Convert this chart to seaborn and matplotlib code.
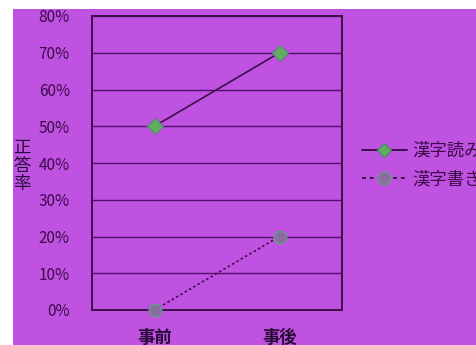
import matplotlib
matplotlib.use("Agg")
import matplotlib.pyplot as plt
import seaborn as sns
import pandas as pd
from matplotlib.patches import Rectangle
from matplotlib.ticker import FixedLocator
from matplotlib.lines import Line2D

categories = ["事前", "事後"]
series_names = ["漢字読み", "漢字書き"]
yomi_values = [0.50, 0.70]
kaki_values = [0.00, 0.20]
y_ticks = [0.0, 0.1, 0.2, 0.3, 0.4, 0.5, 0.6, 0.7, 0.8]
y_tick_labels = ["0%", "10%", "20%", "30%", "40%", "50%", "60%", "70%", "80%"]

df = pd.DataFrame({
    "時期": categories * 2,
    "正答率": yomi_values + kaki_values,
    "系列": [series_names[0]] * 2 + [series_names[1]] * 2,
})

sns.set_theme(style="white")
plt.rcParams["font.family"] = ["Noto Sans CJK JP", "DejaVu Sans"]

W, H = 477, 345
bg = "#bf52e0"
dark = "#3c0f4c"
fig = plt.figure(figsize=(W / 100, H / 100), dpi=100)
fig.patch.set_facecolor("white")
fig.patches.append(Rectangle((13 / W, 0), 1 - 13 / W, 1 - 9 / H,
                             transform=fig.transFigure, facecolor=bg,
                             edgecolor="none", zorder=-10))

ax = fig.add_axes([92 / W, 1 - 310 / H, 250 / W, 294 / H])
ax.set_facecolor(bg)

sns.lineplot(data=df, x="時期", y="正答率", hue="系列", style="系列",
             palette=[dark, dark], markers={series_names[0]: "D", series_names[1]: "o"},
             dashes={series_names[0]: "", series_names[1]: (1.5, 1.5)},
             markersize=8, linewidth=1.2, ax=ax, legend=False, sort=False)

lines = ax.get_lines()
lines[0].set_markerfacecolor("#62ad62")
lines[0].set_markeredgecolor("#4a8a70")
lines[0].set_markersize(8)
lines[1].set_markerfacecolor("#8c6aa2")
lines[1].set_markeredgecolor("#5fa080")
lines[1].set_markeredgewidth(1.0)
lines[1].set_markersize(9)
for ln in lines:
    ln.set_clip_on(False)
    ln.set_zorder(5)

ax.set_xlim(-0.5, 1.5)
ax.set_ylim(0, 0.8)
ax.set_yticks(y_ticks)
ax.set_yticklabels(y_tick_labels)
ax.yaxis.grid(True, color="#50106a", linewidth=1.0)
ax.xaxis.grid(False)
ax.set_axisbelow(True)
ax.set_xlabel("")
ax.set_ylabel("")

for s in ax.spines.values():
    s.set_visible(True)
    s.set_color(dark)
    s.set_linewidth(1.4)

ax.tick_params(axis="y", length=0, pad=16, labelsize=11, labelcolor="#3a0a48")
ax.tick_params(axis="x", which="major", length=0, pad=14, labelsize=12.5, labelcolor="#2a0a38")
ax.xaxis.set_minor_locator(FixedLocator([0.5]))
ax.tick_params(axis="x", which="minor", direction="in", length=4, color=dark, width=1)
for lab in ax.get_xticklabels():
    lab.set_fontweight("bold")

fig.text(22 / W, 1 - 166 / H, "正\n答\n率", ha="center", va="center",
         fontsize=12.5, color="#2a0a38", linespacing=1.0)

handles = [
    Line2D([], [], color=dark, linewidth=1.4, marker="D", markersize=7.5,
           markerfacecolor="#62ad62", markeredgecolor="#4a8a70"),
    Line2D([], [], color=dark, linewidth=1.4, linestyle=(0, (2, 2)), marker="o", markersize=9,
           markerfacecolor="#8c6aa2", markeredgecolor="#5fa080"),
]
fig.legend(handles, series_names, loc="center left",
           bbox_to_anchor=(346 / W, 1 - 165 / H), frameon=False,
           handlelength=2.6, handletextpad=0.3, labelspacing=0.6,
           fontsize=12.5, labelcolor="#3a0a48")

fig.savefig("out.png", dpi=100, facecolor=fig.get_facecolor())
